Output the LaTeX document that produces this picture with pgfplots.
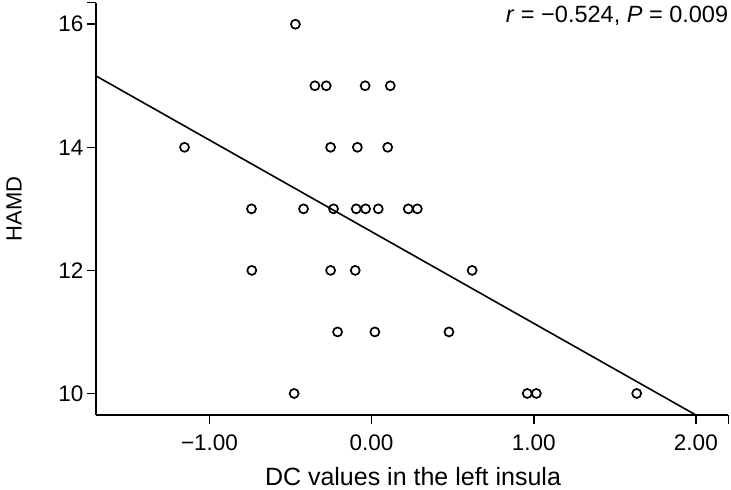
\documentclass[border=0pt]{standalone}
\usepackage{pgfplots}
\pgfplotsset{compat=1.18}
\usepackage{fontspec}
\setmainfont{Liberation Sans}
\begin{document}
\begin{tikzpicture}[x=1pt,y=1pt]
\useasboundingbox (0,0) rectangle (731,490);
\begin{axis}[
  at={(96pt,75pt)}, anchor=south west,
  width=632.3pt, height=412.3pt, scale only axis,
  xmin=-1.7, xmax=2.2, ymin=9.65, ymax=16.35,
  axis lines=left, axis line style={-, line width=1.5pt},
  tick align=outside, major tick length=9pt,
  tick style={black, line width=1.5pt},
  xtick={-1,0,1,2,2.2}, xticklabels={−1.00,0.00,1.00,2.00,{}},
  ytick={10,12,14,16,16.35}, yticklabels={10,12,14,16,{}},
  minor tick num=0,
  ticklabel style={font=\fontsize{22.5}{26}\selectfont},
  xticklabel style={yshift=-7pt},
  clip=false,
]
\addplot[only marks, mark=o, mark size=4.5pt, mark options={line width=1.7pt, black}] coordinates {
(-0.47,16)
(-0.35,15) (-0.28,15) (-0.04,15) (0.115,15)
(-1.154,14) (-0.253,14) (-0.088,14) (0.099,14)
(-0.741,13) (-0.42,13) (-0.235,13) (-0.095,13) (-0.037,13) (0.041,13) (0.226,13) (0.282,13)
(-0.739,12) (-0.253,12) (-0.101,12) (0.62,12)
(-0.21,11) (0.02,11) (0.477,11)
(-0.478,10) (0.96,10) (1.016,10) (1.635,10)
};
\addplot[black, line width=1.6pt] coordinates {(-1.7,15.16) (2.0,9.65)};
\node[anchor=north east, inner sep=0pt, font=\fontsize{23.5}{27}\selectfont] at (axis cs:2.2,16.3) {\textit{r} = −0.524, \textit{P} = 0.009};
\end{axis}
\node[anchor=base, font=\fontsize{25}{29}\selectfont, inner sep=0pt] at (413,5) {DC values in the left insula};
\node[anchor=base, rotate=90, font=\fontsize{22}{26}\selectfont, inner sep=0pt] at (21.7,281) {HAMD};
\end{tikzpicture}
\end{document}
